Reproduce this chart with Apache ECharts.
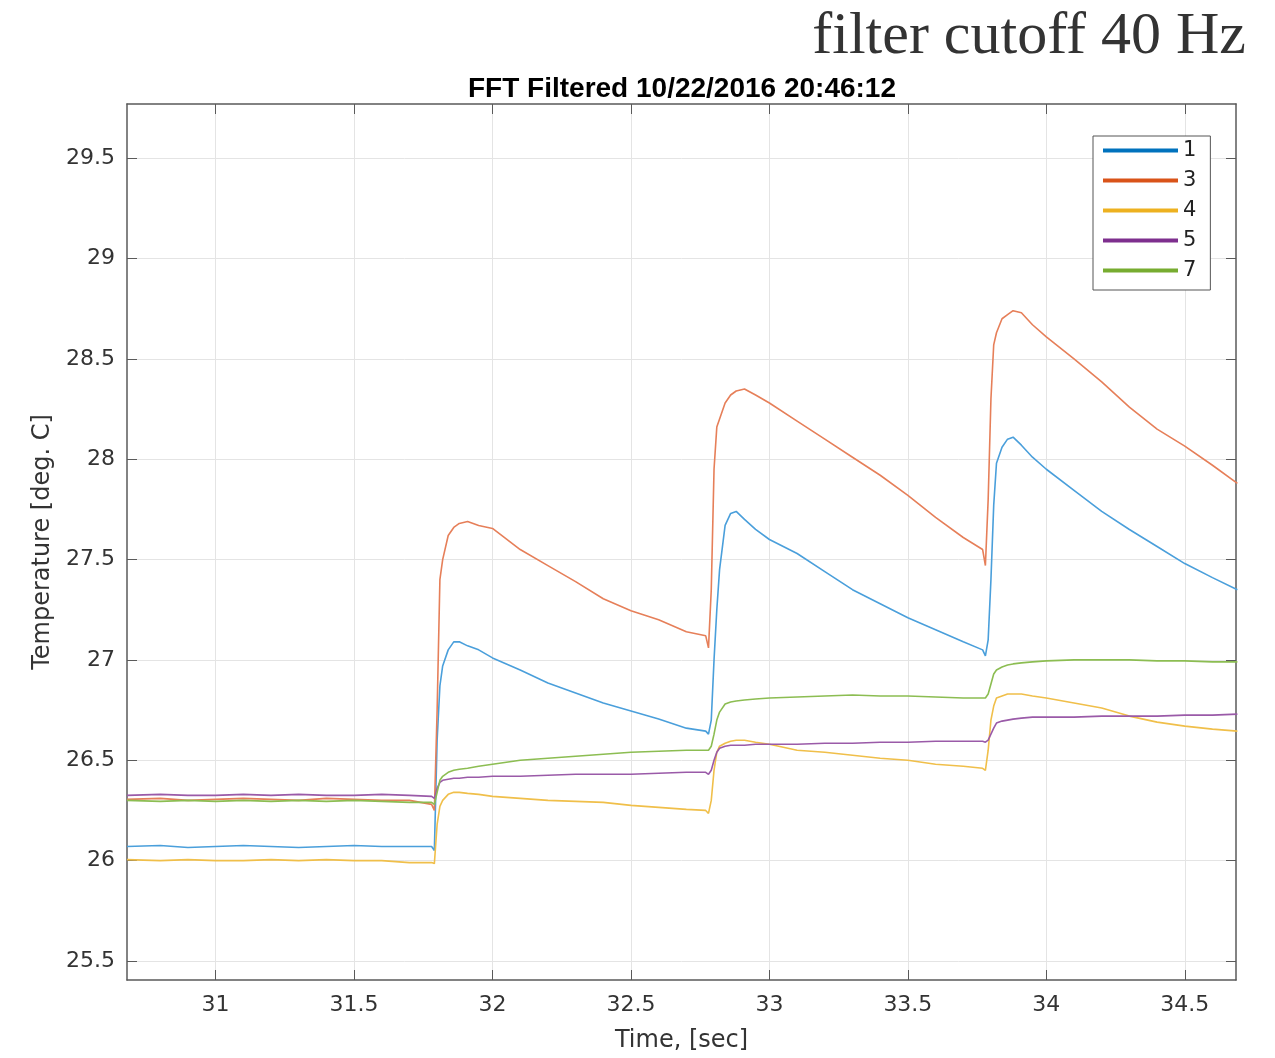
<!DOCTYPE html>
<html>
<head>
<meta charset="utf-8">
<script src="https://cdn.jsdelivr.net/npm/echarts@6/dist/echarts.min.js"></script>
<style>
html,body{margin:0;padding:0;background:#ffffff;}
#chart{width:1275px;height:1058px;}
</style>
</head>
<body>
<div id="chart"></div>
<script>
// ---- data ----
const times = [30.68,30.8,30.9,31.0,31.1,31.2,31.3,31.4,31.5,31.6,31.7,
  31.78,31.79,31.80,31.81,31.82,31.84,31.86,31.88,31.91,31.95,32.0,
  32.1,32.2,32.3,32.4,32.5,32.6,32.7,
  32.77,32.78,32.79,32.80,32.81,32.82,32.84,32.86,32.88,32.91,32.95,33.0,
  33.1,33.2,33.3,33.4,33.5,33.6,33.7,
  33.77,33.78,33.79,33.80,33.81,33.82,33.84,33.86,33.88,33.91,33.95,34.0,
  34.1,34.2,34.3,34.4,34.5,34.6,34.69];

const ch1 = [26.07,26.075,26.065,26.07,26.075,26.07,26.065,26.07,26.075,26.07,26.07,
  26.07,26.05,26.60,26.87,26.97,27.05,27.09,27.09,27.07,27.05,27.01,
  26.95,26.885,26.835,26.785,26.745,26.705,26.66,
  26.645,26.63,26.70,27.00,27.25,27.45,27.67,27.73,27.74,27.70,27.65,27.60,
  27.53,27.44,27.35,27.28,27.21,27.15,27.09,
  27.05,27.02,27.10,27.40,27.77,27.98,28.06,28.10,28.11,28.07,28.01,27.95,
  27.845,27.74,27.65,27.565,27.48,27.41,27.35];

const ch3 = [26.305,26.31,26.30,26.305,26.31,26.305,26.30,26.31,26.305,26.30,26.30,
  26.28,26.25,26.75,27.40,27.50,27.62,27.66,27.68,27.69,27.67,27.655,
  27.55,27.47,27.39,27.305,27.245,27.20,27.14,
  27.12,27.06,27.35,27.95,28.16,28.20,28.28,28.32,28.34,28.35,28.32,28.28,
  28.19,28.10,28.01,27.92,27.82,27.71,27.61,
  27.55,27.47,27.80,28.30,28.57,28.63,28.70,28.72,28.74,28.73,28.67,28.61,
  28.50,28.385,28.26,28.15,28.065,27.97,27.88];

const ch4 = [26.005,26.0,26.005,26.0,26.0,26.005,26.0,26.005,26.0,26.0,25.99,
  25.99,25.985,26.18,26.27,26.30,26.33,26.34,26.34,26.335,26.33,26.32,
  26.31,26.30,26.295,26.29,26.275,26.265,26.255,
  26.25,26.235,26.30,26.45,26.54,26.57,26.585,26.595,26.60,26.60,26.59,26.58,
  26.55,26.54,26.525,26.51,26.50,26.48,26.47,
  26.46,26.45,26.55,26.70,26.77,26.81,26.82,26.83,26.83,26.83,26.82,26.81,
  26.785,26.76,26.72,26.69,26.67,26.655,26.645];

const ch5 = [26.325,26.33,26.325,26.325,26.33,26.325,26.33,26.325,26.325,26.33,26.325,
  26.32,26.31,26.36,26.39,26.40,26.405,26.41,26.41,26.415,26.415,26.42,
  26.42,26.425,26.43,26.43,26.43,26.435,26.44,
  26.44,26.43,26.45,26.50,26.54,26.56,26.57,26.575,26.575,26.575,26.58,26.58,
  26.58,26.585,26.585,26.59,26.59,26.595,26.595,
  26.595,26.59,26.60,26.63,26.66,26.685,26.695,26.70,26.705,26.71,26.715,26.715,
  26.715,26.72,26.72,26.72,26.725,26.725,26.73];

const ch7 = [26.30,26.295,26.30,26.295,26.30,26.295,26.30,26.295,26.30,26.295,26.29,
  26.29,26.28,26.34,26.40,26.42,26.44,26.45,26.455,26.46,26.47,26.48,
  26.50,26.51,26.52,26.53,26.54,26.545,26.55,
  26.55,26.55,26.57,26.63,26.70,26.74,26.78,26.79,26.795,26.80,26.805,26.81,
  26.815,26.82,26.825,26.82,26.82,26.815,26.81,
  26.81,26.81,26.83,26.88,26.93,26.95,26.965,26.975,26.98,26.985,26.99,26.995,
  27.0,27.0,27.0,26.995,26.995,26.99,26.99];

const seriesNames = ['1', '3', '4', '5', '7'];
const seriesValues = [ch1, ch3, ch4, ch5, ch7];
const xTicks = [31, 31.5, 32, 32.5, 33, 33.5, 34, 34.5];
const yTicks = [25.5, 26, 26.5, 27, 27.5, 28, 28.5, 29, 29.5];

const chartTitle = 'FFT Filtered 10/22/2016 20:46:12';
const cornerNote = 'filter cutoff 40 Hz';
const xName = 'Time, [sec]';
const yName = 'Temperature [deg. C]';

// ---- styling ----
const legendColors = ['#0072BD', '#D95319', '#EDB120', '#7E2F8E', '#77AC30'];
const lineColors = ['#4a9fdb', '#e67f59', '#f0bf4a', '#9a5aa8', '#8cbd52'];
const axisColor = '#5a5a5a';
const labelFont = 'DejaVu Sans';

const chart = echarts.init(document.getElementById('chart'), null, {renderer: 'canvas'});

function mkX(primary) {
  return {
    type: 'value', min: 30.68, max: 34.685,
    position: primary ? 'bottom' : 'top',
    axisLine: {show: true, onZero: false, lineStyle: {color: axisColor, width: 1.5}},
    axisTick: {show: true, inside: true, length: 10, customValues: xTicks, lineStyle: {color: axisColor, width: 1}},
    axisLabel: primary ? {show: true, customValues: xTicks, formatter: v => String(v), fontSize: 22,
      fontFamily: labelFont, color: '#333', margin: 14} : {show: false},
    splitLine: primary ? {show: true, lineStyle: {color: '#e4e4e4', width: 1}} : {show: false},
    name: primary ? xName : '',
    nameLocation: 'middle', nameGap: 49,
    nameTextStyle: {fontSize: 24, fontFamily: labelFont, color: '#333'}
  };
}
function mkY(primary) {
  return {
    type: 'value', min: 25.405, max: 29.77,
    position: primary ? 'left' : 'right',
    axisLine: {show: true, onZero: false, lineStyle: {color: axisColor, width: 1.5}},
    axisTick: {show: true, inside: true, length: 10, customValues: yTicks, lineStyle: {color: axisColor, width: 1}},
    axisLabel: primary ? {show: true, customValues: yTicks, formatter: v => String(v), fontSize: 22,
      fontFamily: labelFont, color: '#333', margin: 12} : {show: false},
    splitLine: primary ? {show: true, lineStyle: {color: '#e4e4e4', width: 1}} : {show: false},
    name: primary ? yName : '',
    nameLocation: 'middle', nameGap: 72, nameRotate: 90,
    nameTextStyle: {fontSize: 24, fontFamily: labelFont, color: '#333'}
  };
}

const series = seriesNames.map((name, i) => ({
  name: name,
  type: 'line',
  xAxisIndex: 0, yAxisIndex: 0,
  data: times.map((t, k) => [t, seriesValues[i][k]]),
  showSymbol: false, symbol: 'none',
  color: legendColors[i],
  itemStyle: {color: legendColors[i]},
  lineStyle: {color: lineColors[i], width: 1.6},
  emphasis: {disabled: true},
  animation: false,
  z: 2 + i
}));

chart.setOption({
  animation: false,
  backgroundColor: '#ffffff',
  grid: {left: 127, right: 39, top: 104, bottom: 77, containLabel: false},
  xAxis: [mkX(true), mkX(false)],
  yAxis: [mkY(true), mkY(false)],
  legend: {
    data: seriesNames,
    orient: 'vertical',
    left: 1093, top: 136,
    icon: 'rect', itemWidth: 75, itemHeight: 4, itemGap: 9,
    padding: [4, 14, 9, 10],
    borderColor: '#555', borderWidth: 1, backgroundColor: '#ffffff',
    textStyle: {fontSize: 21, fontFamily: labelFont, color: '#222'},
    selectedMode: false
  },
  graphic: [
    {type: 'text', x: 682, y: 89, z: 100,
     style: {text: chartTitle, align: 'center', verticalAlign: 'middle',
             font: 'bold 28px "Liberation Sans"', fill: '#000'}},
    {type: 'text', x: 1246, y: 37, z: 100,
     style: {text: cornerNote, align: 'right', verticalAlign: 'middle',
             font: '60px "Liberation Serif"', fill: '#333'}}
  ],
  series: series
});
</script>
</body>
</html>
